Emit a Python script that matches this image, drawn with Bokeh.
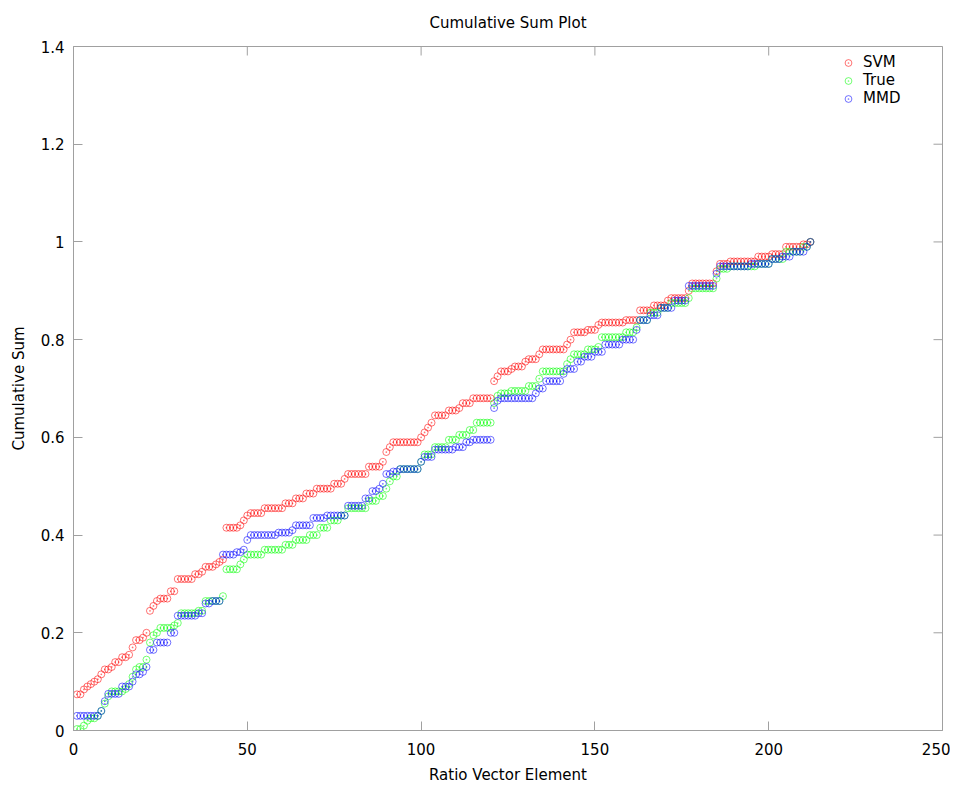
import math
from bokeh.plotting import figure
from bokeh.models import (ColumnDataSource, Range1d, FixedTicker,
                          CustomJSTickFormatter, Legend, LegendItem)
from bokeh.embed import file_html
from bokeh.resources import INLINE

# ---------------- data ----------------
element = list(range(1, 213))

svm = [
    0.074, 0.074, 0.084, 0.09, 0.095, 0.1, 0.105, 0.115, 0.125, 0.125,
    0.13, 0.14, 0.14, 0.15, 0.15, 0.155, 0.17, 0.185, 0.185, 0.19,
    0.2, 0.245, 0.255, 0.265, 0.27, 0.27, 0.27, 0.285, 0.285, 0.31,
    0.31, 0.31, 0.31, 0.31, 0.32, 0.32, 0.325, 0.335, 0.335, 0.335,
    0.34, 0.345, 0.35, 0.415, 0.415, 0.415, 0.415, 0.42, 0.43, 0.44,
    0.445, 0.445, 0.445, 0.445, 0.455, 0.455, 0.455, 0.455, 0.455, 0.455,
    0.465, 0.465, 0.465, 0.475, 0.475, 0.475, 0.485, 0.485, 0.485, 0.495,
    0.495, 0.495, 0.495, 0.495, 0.505, 0.505, 0.505, 0.515, 0.525, 0.525,
    0.525, 0.525, 0.525, 0.525, 0.54, 0.54, 0.54, 0.54, 0.55, 0.57,
    0.58, 0.59, 0.59, 0.59, 0.59, 0.59, 0.59, 0.59, 0.59, 0.6,
    0.61, 0.62, 0.63, 0.645, 0.645, 0.645, 0.645, 0.655, 0.655, 0.655,
    0.66, 0.67, 0.67, 0.67, 0.68, 0.68, 0.68, 0.68, 0.68, 0.68,
    0.715, 0.725, 0.735, 0.735, 0.735, 0.74, 0.745, 0.745, 0.745, 0.755,
    0.76, 0.76, 0.76, 0.77, 0.78, 0.78, 0.78, 0.78, 0.78, 0.78,
    0.78, 0.79, 0.8, 0.815, 0.815, 0.815, 0.815, 0.82, 0.82, 0.82,
    0.83, 0.835, 0.835, 0.835, 0.835, 0.835, 0.835, 0.835, 0.84, 0.84,
    0.84, 0.84, 0.86, 0.86, 0.86, 0.86, 0.87, 0.87, 0.87, 0.87,
    0.88, 0.885, 0.885, 0.885, 0.885, 0.885, 0.9, 0.915, 0.915, 0.915,
    0.915, 0.915, 0.915, 0.915, 0.94, 0.955, 0.955, 0.955, 0.96, 0.96,
    0.96, 0.96, 0.96, 0.96, 0.96, 0.96, 0.97, 0.97, 0.97, 0.97,
    0.975, 0.975, 0.975, 0.975, 0.99, 0.99, 0.99, 0.99, 0.99, 0.995,
    0.995, 1.0,
]

true_vals = [
    0.003, 0.003, 0.01, 0.02, 0.025, 0.025, 0.03, 0.04, 0.055, 0.07,
    0.08, 0.08, 0.08, 0.08, 0.085, 0.095, 0.11, 0.125, 0.13, 0.13,
    0.145, 0.18, 0.195, 0.2, 0.21, 0.21, 0.21, 0.21, 0.215, 0.22,
    0.24, 0.24, 0.24, 0.24, 0.24, 0.245, 0.245, 0.265, 0.265, 0.265,
    0.265, 0.265, 0.275, 0.33, 0.33, 0.33, 0.33, 0.34, 0.35, 0.36,
    0.36, 0.36, 0.36, 0.36, 0.37, 0.37, 0.37, 0.37, 0.37, 0.37,
    0.38, 0.38, 0.38, 0.39, 0.39, 0.39, 0.39, 0.4, 0.4, 0.4,
    0.415, 0.415, 0.415, 0.43, 0.43, 0.43, 0.44, 0.44, 0.455, 0.455,
    0.455, 0.455, 0.455, 0.455, 0.47, 0.47, 0.47, 0.48, 0.48, 0.495,
    0.51, 0.52, 0.52, 0.535, 0.535, 0.535, 0.535, 0.535, 0.535, 0.55,
    0.565, 0.565, 0.565, 0.58, 0.58, 0.58, 0.58, 0.595, 0.595, 0.595,
    0.605, 0.605, 0.605, 0.615, 0.615, 0.63, 0.63, 0.63, 0.63, 0.63,
    0.67, 0.685, 0.69, 0.69, 0.69, 0.695, 0.695, 0.695, 0.695, 0.695,
    0.705, 0.705, 0.705, 0.72, 0.735, 0.735, 0.735, 0.735, 0.735, 0.735,
    0.735, 0.75, 0.76, 0.77, 0.77, 0.77, 0.77, 0.78, 0.78, 0.78,
    0.785, 0.805, 0.805, 0.805, 0.805, 0.805, 0.805, 0.805, 0.815, 0.815,
    0.815, 0.825, 0.84, 0.84, 0.84, 0.855, 0.855, 0.855, 0.865, 0.865,
    0.865, 0.875, 0.875, 0.875, 0.875, 0.875, 0.885, 0.905, 0.905, 0.905,
    0.905, 0.905, 0.905, 0.905, 0.925, 0.945, 0.945, 0.945, 0.95, 0.95,
    0.95, 0.95, 0.95, 0.95, 0.95, 0.95, 0.955, 0.955, 0.955, 0.955,
    0.965, 0.965, 0.965, 0.965, 0.98, 0.98, 0.98, 0.98, 0.98, 0.99,
    0.99, 1.0,
]

mmd = [
    0.03, 0.03, 0.03, 0.03, 0.03, 0.03, 0.03, 0.04, 0.06, 0.075,
    0.075, 0.075, 0.075, 0.09, 0.09, 0.09, 0.1, 0.115, 0.115, 0.12,
    0.13, 0.165, 0.165, 0.18, 0.18, 0.18, 0.18, 0.2, 0.2, 0.235,
    0.235, 0.235, 0.235, 0.235, 0.235, 0.24, 0.24, 0.26, 0.26, 0.265,
    0.265, 0.265, 0.36, 0.36, 0.36, 0.36, 0.365, 0.365, 0.37, 0.39,
    0.4, 0.4, 0.4, 0.4, 0.4, 0.4, 0.4, 0.4, 0.405, 0.405,
    0.405, 0.405, 0.41, 0.42, 0.42, 0.42, 0.42, 0.42, 0.435, 0.435,
    0.435, 0.435, 0.44, 0.44, 0.44, 0.44, 0.44, 0.44, 0.46, 0.46,
    0.46, 0.46, 0.46, 0.475, 0.475, 0.49, 0.49, 0.495, 0.505, 0.525,
    0.525, 0.53, 0.53, 0.535, 0.535, 0.535, 0.535, 0.535, 0.535, 0.55,
    0.56, 0.56, 0.56, 0.575, 0.575, 0.575, 0.575, 0.575, 0.575, 0.58,
    0.58, 0.58, 0.59, 0.59, 0.595, 0.595, 0.595, 0.595, 0.595, 0.595,
    0.66, 0.675, 0.68, 0.68, 0.68, 0.68, 0.68, 0.68, 0.68, 0.68,
    0.68, 0.68, 0.69, 0.7, 0.7, 0.715, 0.715, 0.715, 0.715, 0.715,
    0.73, 0.74, 0.74, 0.74, 0.755, 0.755, 0.765, 0.765, 0.765, 0.775,
    0.775, 0.775, 0.79, 0.79, 0.79, 0.79, 0.79, 0.8, 0.8, 0.8,
    0.8, 0.82, 0.84, 0.84, 0.84, 0.85, 0.85, 0.85, 0.865, 0.865,
    0.865, 0.865, 0.88, 0.88, 0.88, 0.88, 0.91, 0.91, 0.91, 0.91,
    0.91, 0.91, 0.91, 0.91, 0.935, 0.95, 0.95, 0.95, 0.95, 0.95,
    0.95, 0.95, 0.95, 0.95, 0.955, 0.955, 0.955, 0.955, 0.955, 0.955,
    0.965, 0.965, 0.965, 0.97, 0.97, 0.97, 0.98, 0.98, 0.98, 0.98,
    0.99, 1.0,
]

series_names = ["SVM", "True", "MMD"]
series_colors = ["#ff0000", "#00ff00", "#0000ff"]
x_ticks = [0, 50, 100, 150, 200, 250]
y_ticks = [0, 0.2, 0.4, 0.6, 0.8, 1.0, 1.2, 1.4]
x_lim = (0, 250)
y_lim = (0, 1.4)

# ---------------- figure ----------------
FONT = "DejaVu Sans"
GRAY = "#a0a0a0"

p = figure(width=950, height=786, output_backend="svg", toolbar_location=None,
           x_range=Range1d(*x_lim), y_range=Range1d(*y_lim),
           min_border_left=73, min_border_right=8, min_border_top=46,
           min_border_bottom=55, title="Cumulative Sum Plot")
p.title.align = "center"
p.title.vertical_align = "top"
p.title.text_font = FONT
p.title.text_font_size = "15px"
p.title.text_font_style = "normal"
p.title.text_color = "black"
p.title.standoff = 26

p.xgrid.visible = False
p.ygrid.visible = False
p.outline_line_color = GRAY
p.outline_line_width = 1
p.background_fill_color = "white"
p.border_fill_color = "white"

fmt = CustomJSTickFormatter(code="return String(Number(tick.toFixed(2)));")

for ax, ticks in ((p.xaxis[0], x_ticks), (p.yaxis[0], y_ticks)):
    ax.ticker = FixedTicker(ticks=ticks)
    ax.formatter = fmt
    ax.major_tick_in = 9
    ax.major_tick_out = 0
    ax.minor_tick_line_color = None
    ax.major_tick_line_color = GRAY
    ax.axis_line_color = GRAY
    ax.major_label_text_font = FONT
    ax.major_label_text_font_size = "15px"
    ax.major_label_text_color = "black"
    ax.axis_label_text_font = FONT
    ax.axis_label_text_font_size = "15px"
    ax.axis_label_text_font_style = "normal"
    ax.axis_label_text_color = "black"

p.xaxis[0].axis_label = "Ratio Vector Element"
p.yaxis[0].axis_label = "Cumulative Sum"
p.xaxis[0].major_label_standoff = 12
p.yaxis[0].major_label_standoff = 9
p.xaxis[0].axis_label_standoff = 8
p.yaxis[0].axis_label_standoff = 10

# mirrored inward ticks on the top and right edges of the frame
p.ray(x=x_ticks, y=[y_lim[1]] * len(x_ticks), length=9, length_units="screen",
      angle=-math.pi / 2, line_color=GRAY, line_width=1)
p.ray(x=[x_lim[1]] * len(y_ticks), y=y_ticks, length=9, length_units="screen",
      angle=math.pi, line_color=GRAY, line_width=1)

source = ColumnDataSource(dict(x=element, svm=svm, true=true_vals, mmd=mmd))

items = []
for name, col, color in zip(series_names, ["svm", "true", "mmd"], series_colors):
    r = p.scatter("x", col, source=source, marker="circle_dot", size=7,
                  fill_color=None, line_color=color, line_alpha=0.55,
                  line_width=1)
    items.append(LegendItem(label=name, renderers=[r]))

legend = Legend(items=items, location=(765, 623),
                label_text_font=FONT, label_text_font_size="15px",
                label_text_color="black", label_height=17, glyph_height=17,
                glyph_width=20, spacing=0, padding=4, margin=0,
                border_line_color=None, background_fill_alpha=0)
p.add_layout(legend, "center")

open("out.html", "w").write(file_html(p, INLINE))
